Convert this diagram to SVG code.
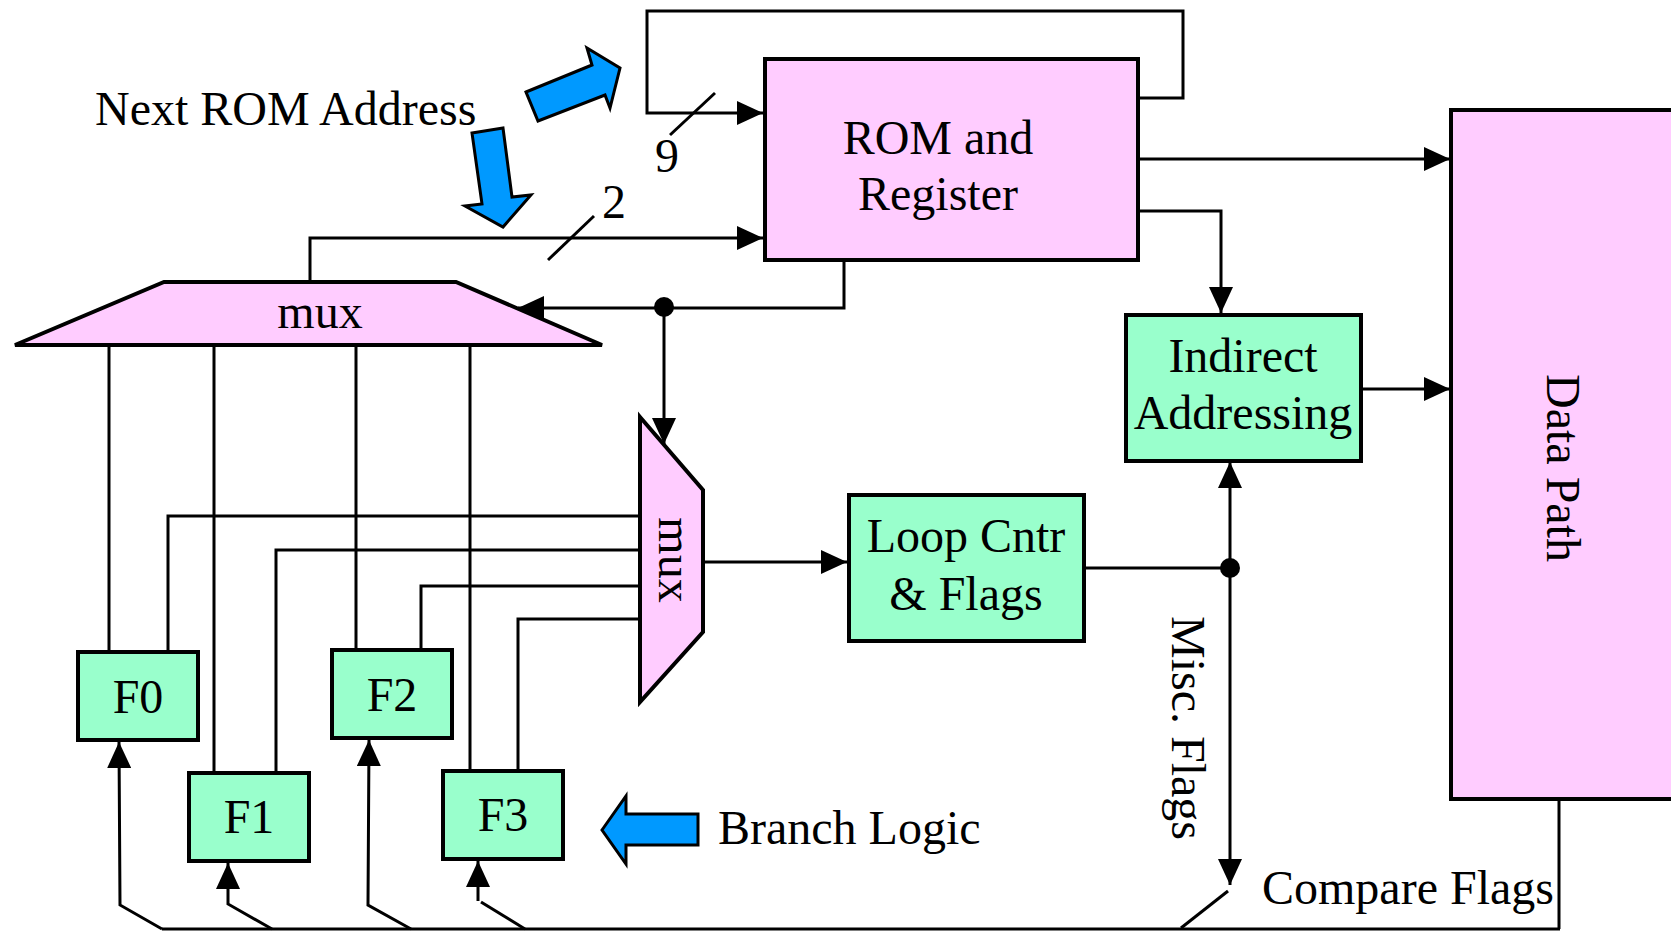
<svg xmlns="http://www.w3.org/2000/svg" width="1671" height="931" viewBox="0 0 1671 931">
<style>
.box{stroke:#000;stroke-width:4}
.pink{fill:#FFCCFF}
.green{fill:#99FFCC}
.blue{fill:#0099FF;stroke:#000;stroke-width:3;stroke-linejoin:miter}
.w{fill:none;stroke:#000;stroke-width:3}
.t{font-family:"Liberation Serif","Times New Roman",serif;font-size:48px;fill:#000}
.c{text-anchor:middle}
</style>
<defs>
<marker id="ah" markerUnits="userSpaceOnUse" markerWidth="26" markerHeight="24" refX="26" refY="12" orient="auto">
<path d="M0,0 L26,12 L0,24 Z" fill="#000"/>
</marker>
</defs>
<rect width="1671" height="931" fill="#fff"/>

<g id="connectors">
<polyline class="w" points="1138,98 1183,98 1183,11 647,11 647,113 763,113" marker-end="url(#ah)"/>
<line class="w" x1="670" y1="135" x2="715" y2="93"/>
<polyline class="w" points="310,282 310,238 763,238" marker-end="url(#ah)"/>
<line class="w" x1="548" y1="260" x2="594" y2="216"/>
<polyline class="w" points="844,260 844,308 518,308" marker-end="url(#ah)"/>
<line class="w" x1="664" y1="308" x2="664" y2="444" marker-end="url(#ah)"/>
<line class="w" x1="1138" y1="159" x2="1450" y2="159" marker-end="url(#ah)"/>
<polyline class="w" points="1138,211 1221,211 1221,313" marker-end="url(#ah)"/>
<line class="w" x1="1361" y1="389" x2="1450" y2="389" marker-end="url(#ah)"/>
<line class="w" x1="703" y1="562" x2="847" y2="562" marker-end="url(#ah)"/>
<line class="w" x1="1084" y1="568" x2="1230" y2="568"/>
<line class="w" x1="1230" y1="568" x2="1230" y2="462" marker-end="url(#ah)"/>
<line class="w" x1="1230" y1="568" x2="1230" y2="885" marker-end="url(#ah)"/>
<line class="w" x1="1228" y1="891" x2="1181" y2="928"/>
<line class="w" x1="162" y1="929" x2="1560" y2="929"/>
<line class="w" x1="1559" y1="799" x2="1559" y2="929"/>
<polyline class="w" points="162,929 120,905 119,742" marker-end="url(#ah)"/>
<polyline class="w" points="272,929 228,904 228,863" marker-end="url(#ah)"/>
<polyline class="w" points="411,929 368,905 369,740" marker-end="url(#ah)"/>
<line class="w" x1="525" y1="929" x2="481" y2="902"/>
<line class="w" x1="478" y1="901" x2="478" y2="861" marker-end="url(#ah)"/>
<line class="w" x1="109" y1="345" x2="109" y2="652"/>
<line class="w" x1="214" y1="345" x2="214" y2="773"/>
<line class="w" x1="356" y1="345" x2="356" y2="650"/>
<line class="w" x1="470" y1="345" x2="470" y2="771"/>
<polyline class="w" points="168,652 168,516 640,516"/>
<polyline class="w" points="276,773 276,550 640,550"/>
<polyline class="w" points="421,650 421,586 640,586"/>
<polyline class="w" points="518,771 518,619 640,619"/>
<circle cx="664" cy="307" r="10" fill="#000"/>
<circle cx="1230" cy="568" r="10" fill="#000"/>
</g>

<g id="rom">
<rect class="box pink" x="765" y="59" width="373" height="201"/>
<text class="t c" x="938" y="154">ROM and</text>
<text class="t c" x="938" y="210">Register</text>
</g>

<g id="mux-top">
<polygon class="box pink" points="164,282 456,282 602,345 15,345"/>
<text class="t c" x="320" y="328">mux</text>
</g>

<g id="mux-vertical">
<polygon class="box pink" points="640,417 703,490 703,632 640,702"/>
<text class="t c" transform="translate(659,560) rotate(90)" x="0" y="0">mux</text>
</g>

<g id="indirect">
<rect class="box green" x="1126" y="315" width="235" height="146"/>
<text class="t c" x="1243" y="372">Indirect</text>
<text class="t c" x="1243" y="429">Addressing</text>
</g>

<g id="loop">
<rect class="box green" x="849" y="495" width="235" height="146"/>
<text class="t c" x="966" y="552">Loop Cntr</text>
<text class="t c" x="966" y="610">&amp; Flags</text>
</g>

<g id="datapath">
<rect class="box pink" x="1451" y="110" width="240" height="689"/>
<text class="t c" transform="translate(1547,468) rotate(90)" x="0" y="0">Data Path</text>
</g>

<g id="f0">
<rect class="box green" x="78" y="652" width="120" height="88"/>
<text class="t c" x="138" y="713">F0</text>
</g>
<g id="f1">
<rect class="box green" x="189" y="773" width="120" height="88"/>
<text class="t c" x="249" y="833">F1</text>
</g>
<g id="f2">
<rect class="box green" x="332" y="650" width="120" height="88"/>
<text class="t c" x="392" y="711">F2</text>
</g>
<g id="f3">
<rect class="box green" x="443" y="771" width="120" height="88"/>
<text class="t c" x="503" y="831">F3</text>
</g>

<g id="labels">
<text class="t" x="95" y="125">Next ROM Address</text>
<text class="t c" x="667" y="172">9</text>
<text class="t c" x="614" y="218">2</text>
<text class="t" x="718" y="844">Branch Logic</text>
<text class="t" x="1262" y="904">Compare Flags</text>
<text class="t c" transform="translate(1172,728) rotate(90)" x="0" y="0">Misc. Flags</text>
</g>

<g id="blue-arrows">
<polygon class="blue" points="472,133 503,128 512,197 531,195 503,227 465,206 482,204"/>
<polygon class="blue" points="526,92 592,65 587,48 620,68 610,108 605,95 538,121"/>
<polygon class="blue" points="602,830 626,796 626,814 698,814 698,845 626,845 626,864"/>
</g>
</svg>
